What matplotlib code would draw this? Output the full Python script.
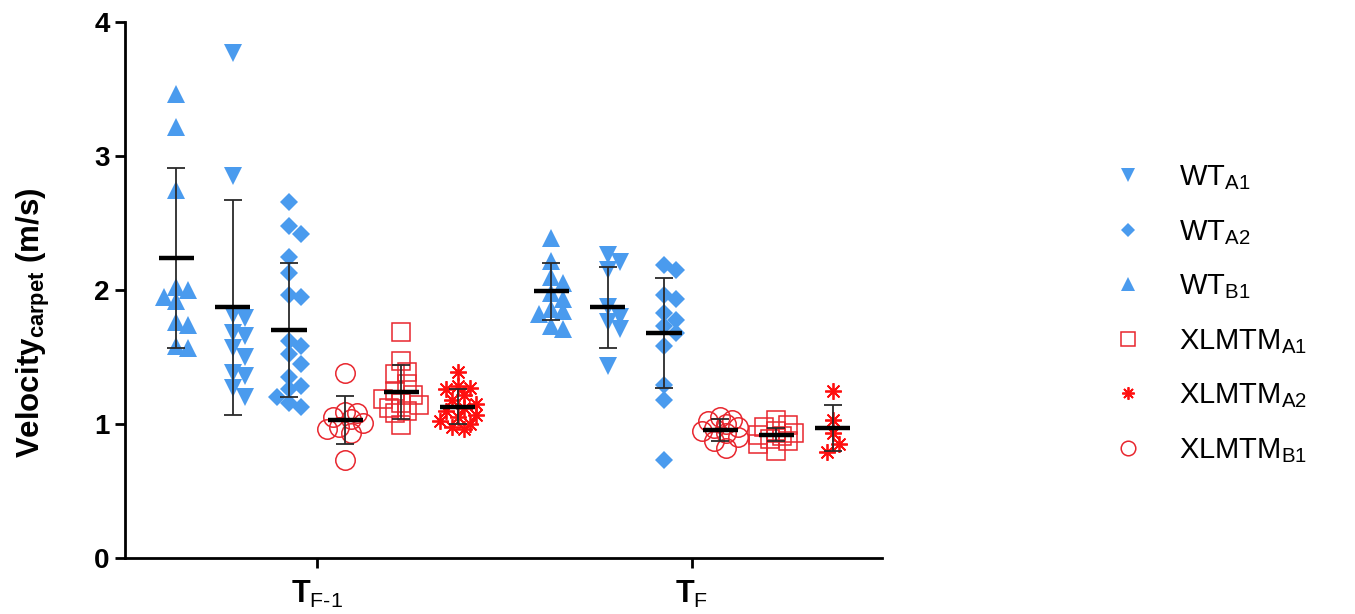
import numpy as np
import matplotlib
matplotlib.use("Agg")
import matplotlib.pyplot as plt
from matplotlib.lines import Line2D

plt.rcParams['font.family'] = ['Liberation Sans', 'DejaVu Sans']
plt.rcParams['mathtext.fontset'] = 'custom'
plt.rcParams['mathtext.rm'] = 'Liberation Sans'
plt.rcParams['mathtext.bf'] = 'Liberation Sans:bold'
plt.rcParams['mathtext.it'] = 'Liberation Sans:italic'

# categories and groups (order inside each time point, left to right)
timepoints = [r'$\mathbf{T}_{\text{F-1}}$', r'$\mathbf{T}_{\text{F}}$']
groups = ['WT_B1', 'WT_A1', 'WT_A2', 'XLMTM_B1', 'XLMTM_A1', 'XLMTM_A2']

# individual values, T_F-1
tf1_wt_b1 = [3.46, 3.22, 2.75, 2.02, 2.0, 1.95, 1.92, 1.76, 1.74, 1.58, 1.57]
tf1_wt_a1 = [3.77, 2.85, 1.81, 1.79, 1.68, 1.66, 1.57, 1.5, 1.38, 1.36, 1.27, 1.2]
tf1_wt_a2 = [2.66, 2.48, 2.42, 2.25, 2.13, 1.96, 1.95, 1.62, 1.58, 1.52, 1.45,
             1.35, 1.28, 1.26, 1.2, 1.16, 1.13]
tf1_xl_b1 = [1.38, 1.09, 1.08, 1.05, 1.04, 1.01, 0.98, 0.96, 0.93, 0.73]
tf1_xl_a1 = [1.69, 1.47, 1.39, 1.37, 1.30, 1.25, 1.22, 1.19, 1.16, 1.14, 1.12,
             1.10, 1.08, 0.99]
tf1_xl_a2 = [1.39, 1.28, 1.27, 1.26, 1.22, 1.18, 1.15, 1.12, 1.10, 1.07, 1.05,
             1.02, 1.0, 0.98, 0.96]

# individual values, T_F
tf_wt_b1 = [2.39, 2.22, 2.10, 2.05, 1.98, 1.93, 1.86, 1.84, 1.82, 1.73, 1.71]
tf_wt_a1 = [2.26, 2.21, 2.15, 1.87, 1.80, 1.76, 1.71, 1.43]
tf_wt_a2 = [2.19, 2.15, 1.96, 1.93, 1.83, 1.78, 1.73, 1.68, 1.58, 1.29, 1.18, 0.73]
tf_xl_b1 = [1.05, 1.03, 1.02, 1.00, 0.98, 0.97, 0.95, 0.93, 0.90, 0.87, 0.82]
tf_xl_a1 = [1.03, 0.99, 0.98, 0.95, 0.93, 0.92, 0.91, 0.89, 0.87, 0.85, 0.80]
tf_xl_a2 = [1.25, 1.03, 0.93, 0.85, 0.79]

# mean and SD as drawn
tf1_mean = [2.24, 1.87, 1.70, 1.03, 1.24, 1.13]
tf1_sd = [0.67, 0.80, 0.50, 0.18, 0.20, 0.13]
tf_mean = [1.99, 1.87, 1.68, 0.955, 0.92, 0.97]
tf_sd = [0.21, 0.30, 0.41, 0.08, 0.05, 0.17]

data = [[tf1_wt_b1, tf1_wt_a1, tf1_wt_a2, tf1_xl_b1, tf1_xl_a1, tf1_xl_a2],
        [tf_wt_b1, tf_wt_a1, tf_wt_a2, tf_xl_b1, tf_xl_a1, tf_xl_a2]]
means = [tf1_mean, tf_mean]
sds = [tf1_sd, tf_sd]

blue = '#4A9BEE'
red = '#E8262E'
styles = {
    'WT_A1': dict(marker='v', ms=13, mfc=blue, mec=blue, mew=0),
    'WT_A2': dict(marker='D', ms=9.5, mfc=blue, mec=blue, mew=0),
    'WT_B1': dict(marker='^', ms=13, mfc=blue, mec=blue, mew=0),
    'XLMTM_A1': dict(marker='s', ms=13, mfc='none', mec=red, mew=1.1),
    'XLMTM_A2': dict(marker=(8, 2, 0), ms=12, mfc=red, mec='#FF1010', mew=1.3),
    'XLMTM_B1': dict(marker='o', ms=14, mfc='none', mec=red, mew=1.1),
}
labels = {
    'WT_A1': r'WT$_{\mathrm{A1}}$', 'WT_A2': r'WT$_{\mathrm{A2}}$',
    'WT_B1': r'WT$_{\mathrm{B1}}$', 'XLMTM_A1': r'XLMTM$_{\mathrm{A1}}$',
    'XLMTM_A2': r'XLMTM$_{\mathrm{A2}}$', 'XLMTM_B1': r'XLMTM$_{\mathrm{B1}}$',
}
legend_order = ['WT_A1', 'WT_A2', 'WT_B1', 'XLMTM_A1', 'XLMTM_A2', 'XLMTM_B1']

# pixel scale of the axes, used only to spread overlapping points sideways
XPX, YPX = 375.0, 134.0


def swarm(values, center, diam=12.0, step=6.0):
    vals = np.asarray(values, dtype=float)
    xs = np.zeros(len(vals))
    placed = []
    offsets = [0, step, -step, 2 * step, -2 * step, 3 * step, -3 * step]
    for i in np.argsort(vals)[::-1]:
        y = vals[i] * YPX
        best, best_d = 0, -1
        for off in offsets:
            d = min([np.hypot(off - px, y - py) for px, py in placed] or [1e9])
            if d >= diam:
                best = off
                break
            if d > best_d:
                best, best_d = off, d
        placed.append((best, y))
        xs[i] = center + best / XPX
    return xs


fig = plt.figure(figsize=(13.55, 6.14), dpi=100)
ax = fig.add_axes([0.0923, 0.0912, 0.5587, 0.8729])

spacing = 0.15
for t in range(len(timepoints)):
    for g, name in enumerate(groups):
        cx = t + (g - 2.5) * spacing
        vals = data[t][g]
        xs = swarm(vals, cx)
        ax.plot(xs, vals, linestyle='none', zorder=2, **styles[name])
        ax.errorbar([cx], [means[t][g]], yerr=[sds[t][g]], fmt='none',
                    ecolor='#2a2a2a', elinewidth=1.3, capsize=6.5,
                    capthick=1.3, zorder=3)
        ax.hlines(means[t][g], cx - 0.047, cx + 0.047, color='black',
                  lw=3.2, zorder=4)

ax.set_xlim(-0.512, 1.507)
ax.set_ylim(0, 4)
ax.set_xticks(range(len(timepoints)))
ax.set_xticklabels(timepoints, fontsize=22)
ax.set_yticks([0, 1, 2, 3, 4])
ax.set_yticklabels(['0', '1', '2', '3', '4'], fontsize=20, fontweight='bold')
for s in ['top', 'right']:
    ax.spines[s].set_visible(False)
for s in ['left', 'bottom']:
    ax.spines[s].set_linewidth(2)
ax.tick_params(axis='both', width=2, length=7, direction='out')
ax.tick_params(axis='x', pad=8)
ax.tick_params(axis='y', pad=4)
ax.set_ylabel(r'$\mathbf{Velocity}_{\mathbf{carpet}}$ $\mathbf{(m/s)}$',
              fontsize=22.5)
ax.yaxis.set_label_coords(-0.096, 0.438)

handles = []
for name in legend_order:
    st = dict(styles[name])
    st['ms'] = st['ms'] * 0.75
    handles.append(Line2D([], [], linestyle='none', label=labels[name], **st))
fig.legend(handles=handles, loc='center left',
           bbox_to_anchor=(1110 / 1355, 1 - 314 / 614), frameon=False,
           fontsize=21, labelspacing=0.88, handlelength=1.2,
           handletextpad=1.15, borderaxespad=0, borderpad=0)

fig.savefig('out.png', dpi=100, facecolor='white')
